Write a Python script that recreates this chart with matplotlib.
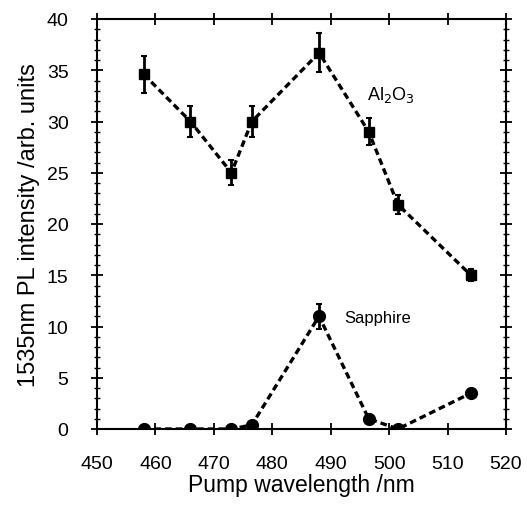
import numpy as np
import matplotlib.pyplot as plt
from matplotlib.ticker import MultipleLocator

plt.rcParams['font.family'] = ['Liberation Sans', 'DejaVu Sans']

# Pump wavelengths (nm)
wavelength = [458, 466, 473, 476.5, 488, 496.5, 501.5, 514]

# Al2O3 film
al2o3 = [34.6, 30.0, 25.0, 30.0, 36.7, 29.0, 21.9, 15.0]
al2o3_err = [1.8, 1.5, 1.2, 1.5, 1.9, 1.3, 0.9, 0.6]

# Sapphire substrate
sapphire = [0.0, 0.0, 0.0, 0.4, 11.0, 1.0, 0.0, 3.5]
sapphire_err = [0, 0, 0, 0, 1.2, 0, 0, 0]

fig = plt.figure(figsize=(5.27, 5.06), dpi=100)
ax = fig.add_axes([97 / 527, 76 / 506, 409 / 527, 410 / 506])

ax.errorbar(wavelength, al2o3, yerr=al2o3_err, color='black', linestyle=(0, (2, 1.2)),
            linewidth=2.4, marker='s', markersize=7, elinewidth=2, capsize=2.5, capthick=1.5)
ax.errorbar(wavelength, sapphire, yerr=sapphire_err, color='black', linestyle=(0, (2, 1.2)),
            linewidth=2.4, marker='o', markersize=8.5, elinewidth=2, capsize=2.5, capthick=1.5)

ax.text(496.2, 32.2, 'Al$_2$O$_3$', fontsize=13, va='baseline')
ax.text(492.4, 10.4, 'Sapphire', fontsize=12, va='baseline')

ax.set_xlim(450, 520)
ax.set_ylim(0, 40)
ax.xaxis.set_major_locator(MultipleLocator(10))
ax.yaxis.set_major_locator(MultipleLocator(5))
ax.yaxis.set_minor_locator(MultipleLocator(1))

ax.tick_params(which='major', direction='inout', length=9, width=1.3, labelsize=14,
               top=True, right=True)
ax.tick_params(axis='x', which='major', pad=14)
ax.tick_params(axis='y', which='major', pad=16)
ax.tick_params(which='minor', direction='inout', length=5, width=1, right=True)
for s in ax.spines.values():
    s.set_linewidth(1.5)

ax.set_xlabel('Pump wavelength /nm', fontsize=16.5, labelpad=1)
ax.set_ylabel('1535nm PL intensity /arb. units', fontsize=17, labelpad=5)

fig.savefig('out.png', dpi=100)
